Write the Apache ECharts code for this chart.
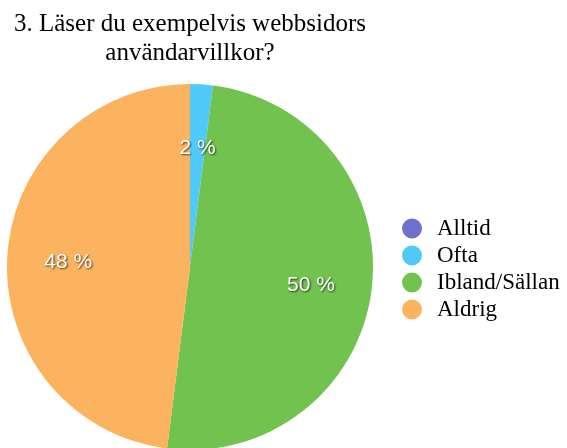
<!DOCTYPE html>
<html><head><meta charset="utf-8">
<script src="https://cdn.jsdelivr.net/npm/echarts@6/dist/echarts.min.js"></script>
<style>html,body{margin:0;padding:0;background:#fff}#c{width:567px;height:448px}</style>
</head><body><div id="c"></div>
<script>
const categories = ['Alltid', 'Ofta', 'Ibland/Sällan', 'Aldrig'];
const values = [0, 2, 50, 48];
const colors = ['#6F72CB', '#4FCAF9', '#72C24F', '#FCB35F'];

const chart = echarts.init(document.getElementById('c'), null, {renderer: 'canvas'});
const data = categories.map((n, i) => ({name: n, value: values[i]}));
const labelData = categories.map((n, i) => ({name: n, value: values[i], label: {show: values[i] > 0}}));
chart.setOption({
  animation: false,
  color: colors,
  title: {
    text: '3. Läser du exempelvis webbsidors\nanvändarvillkor?',
    left: 185, top: 5, textAlign: 'center',
    textStyle: {fontFamily: 'Liberation Serif', fontSize: 25, fontWeight: 'normal', color: '#000', lineHeight: 29}
  },
  legend: {
    orient: 'vertical', left: 397, top: 212,
    icon: 'circle', itemWidth: 20, itemHeight: 20, itemGap: 4,
    data: categories,
    textStyle: {fontFamily: 'Liberation Serif', fontSize: 23, color: '#000', padding: [0, 0, 0, 10]}
  },
  series: [{
    type: 'pie', center: [190, 267], radius: [0, 183], startAngle: 90, clockwise: true,
    data: data, label: {show: false}, labelLine: {show: false}, silent: true,
    itemStyle: {borderWidth: 0}
  }, {
    type: 'pie', center: [190, 267], radius: [55, 183], startAngle: 90, clockwise: true,
    data: labelData, silent: true, legendHoverLink: false,
    itemStyle: {color: 'rgba(0,0,0,0)', borderWidth: 0},
    labelLine: {show: false},
    label: {
      position: 'inside', formatter: '{c} %', offset: [0, 3],
      fontFamily: 'Liberation Sans', fontSize: 21, color: '#fff',
      textShadowColor: 'rgba(0,0,0,0.7)', textShadowBlur: 2, textShadowOffsetX: 1, textShadowOffsetY: 1
    }
  }]
});
</script></body></html>
